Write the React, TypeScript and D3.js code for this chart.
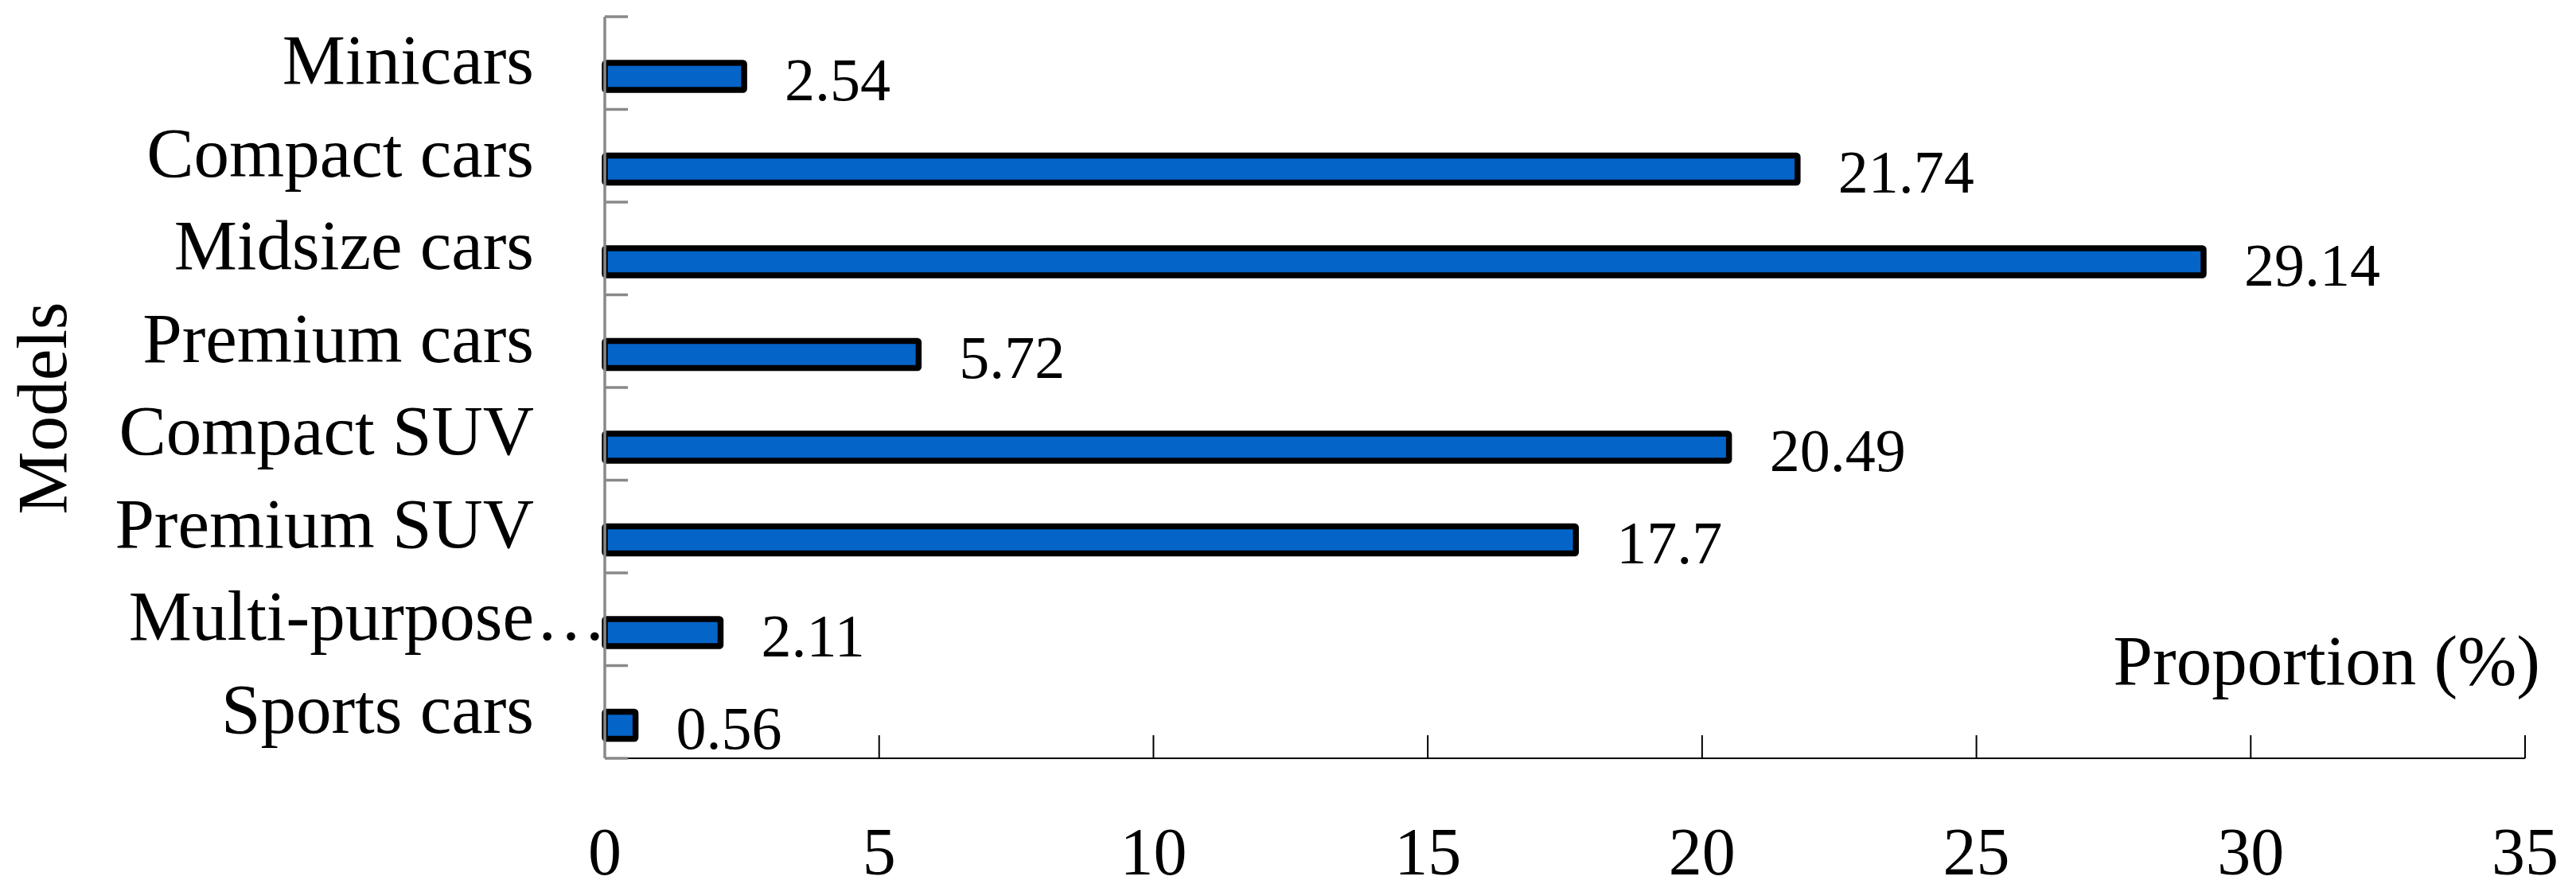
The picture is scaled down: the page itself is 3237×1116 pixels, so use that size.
import React from "react";
import * as d3 from "d3";

const categories = [
  "Minicars",
  "Compact cars",
  "Midsize cars",
  "Premium cars",
  "Compact SUV",
  "Premium SUV",
  "Multi-purpose…",
  "Sports cars",
];
const values = [2.54, 21.74, 29.14, 5.72, 20.49, 17.7, 2.11, 0.56];
const xTicks = [0, 5, 10, 15, 20, 25, 30, 35];
const xTitle = "Proportion (%)";
const yTitle = "Models";

const W = 3237;
const H = 1116;
const FONT = "'Liberation Serif', 'Times New Roman', serif";

export default function App() {
  const x = d3.scaleLinear().domain([0, 35]).range([760, 3173]);
  const y = d3.scaleBand<string>().domain(categories).range([21, 953]).padding(0);
  const bw = y.bandwidth();
  const boundaries = d3.range(categories.length + 1).map((i) => 21 + i * bw);
  const barH = 34;
  const barOffset = 16.7;

  return (
    <svg
      width={W}
      height={H}
      style={{ position: "absolute", left: 0, top: 0, background: "#fff" }}
      fontFamily={FONT}
    >
      <rect x={0} y={0} width={W} height={H} fill="#fff" />
      {/* x axis */}
      <line x1={x(0)} x2={x(35)} y1={953} y2={953} stroke="#000" strokeWidth={2.2} />
      {xTicks.map((t) => (
        <g key={t}>
          {t > 0 && (
            <line x1={x(t)} x2={x(t)} y1={924} y2={953} stroke="#000" strokeWidth={2} />
          )}
          <text x={x(t)} y={1099} fontSize={84} textAnchor="middle" fill="#000">
            {t}
          </text>
        </g>
      ))}
      {/* bars */}
      {categories.map((c, i) => {
        const cy = (y(c) as number) + bw / 2 + barOffset;
        return (
          <g key={c}>
            <rect
              x={x(0)}
              y={cy - barH / 2}
              width={x(values[i]) - x(0)}
              height={barH}
              fill="#0464C8"
              stroke="#000"
              strokeWidth={7.5}
              rx={1.5}
            />
            <text x={x(values[i]) + 51} y={cy + 30} fontSize={76} fill="#000">
              {values[i]}
            </text>
          </g>
        );
      })}
      {/* y axis */}
      <line x1={760} x2={760} y1={21} y2={953} stroke="#898989" strokeWidth={3.5} />
      {boundaries.map((b, i) => (
        <line key={i} x1={760} x2={789} y1={b} y2={b} stroke="#898989" strokeWidth={3.5} />
      ))}
      {categories.map((c) => {
        const ty = (y(c) as number) + bw / 2 + 26;
        const parts = c.split("…");
        return (
          <g key={c}>
            <text x={671} y={ty} fontSize={89} textAnchor="end" fill="#000">
              {parts[0]}
            </text>
            {parts.length > 1 && (
              <text x={673} y={ty} fontSize={89} textAnchor="start" fill="#000">
                …
              </text>
            )}
          </g>
        );
      })}
      {/* titles */}
      <text x={3192} y={860} fontSize={89} textAnchor="end" fill="#000">
        {xTitle}
      </text>
      <text
        transform={`translate(83,513) rotate(-90)`}
        fontSize={89}
        textAnchor="middle"
        fill="#000"
      >
        {yTitle}
      </text>
    </svg>
  );
}
